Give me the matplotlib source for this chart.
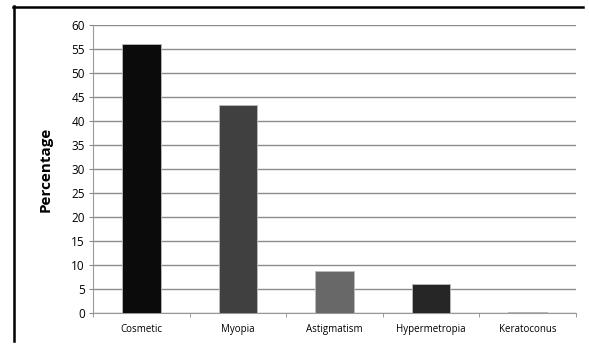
import matplotlib.pyplot as plt
from matplotlib.lines import Line2D

# data
categories = ['Cosmetic', 'Myopia', 'Astigmatism', 'Hypermetropia', 'Keratoconus']
values = [56, 43.5, 8.9, 6.2, 0.3]
colors = ['#0b0b0b', '#404040', '#686868', '#262626', '#555555']

plt.rcParams['font.family'] = ['Open Sans', 'DejaVu Sans']

fig = plt.figure(figsize=(5.89, 3.48), dpi=100)
ax = fig.add_axes([0.158, 0.0997, 0.820, 0.8276])

x = range(len(categories))
ax.bar(x, values, width=0.4, color=colors, edgecolor='#bbbbbb', linewidth=0.6, zorder=3)

ax.set_xlim(-0.5, len(categories) - 0.5)
ax.set_ylim(0, 60)
ax.set_yticks(range(0, 61, 5))
ax.tick_params(axis='y', labelsize=8.5, length=3, color='#888888', pad=3)
ax.set_xticks(list(x))
ax.set_xticklabels(categories, fontsize=7)
ax.tick_params(axis='x', length=0, pad=8)
# minor ticks between categories on the x axis
ax.set_xticks([i - 0.5 for i in range(len(categories) + 1)], minor=True)
ax.tick_params(axis='x', which='minor', length=3, color='#888888', direction='out')

ax.grid(axis='y', color='#8c8c8c', linewidth=1.0, zorder=0)
for s in ['top', 'right']:
    ax.spines[s].set_visible(False)
ax.spines['left'].set_color('#999999')
ax.spines['bottom'].set_color('#999999')

ax.set_ylabel('Percentage', fontsize=11, fontweight='bold', labelpad=13)

# frame lines of the original figure
fig.add_artist(Line2D([14 / 589, 14 / 589], [1 - 6 / 348, 1 - 341 / 348],
                      color='black', linewidth=1.8, transform=fig.transFigure))
fig.add_artist(Line2D([13 / 589, 583 / 589], [1 - 6.5 / 348, 1 - 6.5 / 348],
                      color='black', linewidth=1.8, transform=fig.transFigure))

fig.savefig('out.png', dpi=100)
